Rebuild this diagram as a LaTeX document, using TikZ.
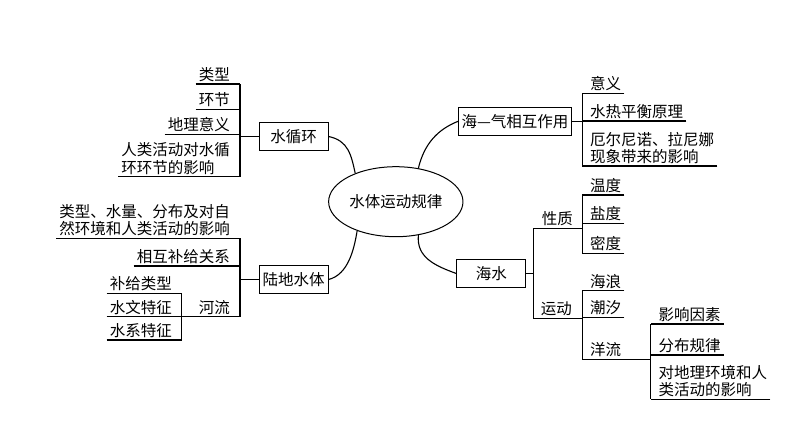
\documentclass[tikz,border=0pt]{standalone}
\usepackage{fontspec}
\setmainfont{Noto Sans CJK SC}
\usetikzlibrary{shapes.geometric}

\begin{document}
\begin{tikzpicture}[x=1pt, y=-1pt, every node/.style={font=\fontsize{15.5}{17.5}\selectfont}]
    % Define the styles for the boxes, the centre and the branch texts
    \tikzset{box/.style={rectangle, draw, line width=1pt, minimum height=28pt, minimum width=69pt, inner xsep=3pt}}
    \tikzset{core/.style={ellipse, draw, line width=1pt, minimum width=115pt, minimum height=70pt, inner sep=1pt}}
    \tikzset{leafl/.style={anchor=south east, inner xsep=3pt, inner ysep=2pt, align=left}}
    \tikzset{leafr/.style={anchor=south west, inner xsep=3pt, inner ysep=2pt, align=left}}
    \tikzset{line/.style={draw, line width=1.1pt}}

    \fill[white] (0,0) rectangle (794,447);
    \useasboundingbox (0,0) rectangle (794,447);

    % Place the centre and the four main blocks
    \node[core] (core) at (395.8,201.7) {水体运动规律};
    \node[box] (wc) at (293.5,136.5) {水循环};
    \node[box] (land) at (293.5,279.5) {陆地水体};
    \node[box] (air) at (515,121.3) {海—气相互作用};
    \node[box] (sea) at (491.3,273.5) {海水};

    \draw[line] (wc.east) .. controls +(20,4) and +(-4,-18) .. (core.145);
    \draw[line] (land.east) .. controls +(20,-5) and +(-3,18) .. (core.217);
    \draw[line] (core.56) .. controls +(6,-25) and +(-20,8) .. (air.west);
    \draw[line] (core.-56) .. controls +(-2,22) and +(-22,-8) .. (sea.west);

    % Water cycle
    \coordinate (wcT) at (240,136.5);
    \node[leafl] (wcA) at (233,84) {类型};
    \node[leafl] (wcB) at (233,109.3) {环节};
    \node[leafl] (wcC) at (233,134.3) {地理意义};
    \node[leafl] (wcD) at (233,176.7) {人类活动对水循\\环环节的影响};
    \foreach \n in {wcA,wcB,wcC,wcD}
        \draw[line] (\n.south west) -- (\n.south west -| wcT);
    \draw[line] (wcA.south west -| wcT) -- (wcD.south west -| wcT);
    \draw[line] (wc.west) -- (wc.west -| wcT);

    % Land water
    \coordinate (ldT) at (240,279.5);
    \coordinate (rvT) at (181.7,316.7);
    \node[leafl] (ldA) at (233,238.3) {类型、水量、分布及对自\\然环境和人类活动的影响};
    \node[leafl] (ldB) at (233,266) {相互补给关系};
    \node[leafl] (ldC) at (233,316.7) {河流};
    \foreach \n in {ldA,ldB}
        \draw[line] (\n.south west) -- (\n.south west -| ldT);
    \draw[line] (ldC.south -| rvT) -- (ldC.south -| ldT);
    \draw[line] (ldA.south west -| ldT) -- (ldC.south -| ldT);
    \draw[line] (land.west) -- (land.west -| ldT);

    \node[leafl] (rvA) at (175,293.3) {补给类型};
    \node[leafl] (rvB) at (175,316.7) {水文特征};
    \node[leafl] (rvC) at (175,340) {水系特征};
    \foreach \n in {rvA,rvB,rvC}
        \draw[line] (\n.south west) -- (\n.south west -| rvT);
    \draw[line] (rvA.south -| rvT) -- (rvC.south -| rvT);

    % Sea-air interaction
    \coordinate (arT) at (582.3,121.3);
    \node[leafr] (arA) at (587,93.3) {意义};
    \node[leafr] (arB) at (587,121) {水热平衡原理};
    \node[leafr] (arC) at (587,166) {厄尔尼诺、拉尼娜\\现象带来的影响};
    \foreach \n in {arA,arB,arC}
        \draw[line] (\n.south east) -- (\n.south east -| arT);
    \draw[line] (arA.south -| arT) -- (arC.south -| arT);
    \draw[line] (air.east) -- (air.east -| arT);

    % Sea water
    \coordinate (seT) at (533.3,273.5);
    \coordinate (pqT) at (582.3,228.3);
    \coordinate (mvT) at (582.3,318.3);
    \coordinate (cuT) at (650.7,359.3);
    \node[leafr] (pq) at (538.7,228.3) {性质};
    \node[leafr] (mv) at (537.7,318.3) {运动};
    \draw[line] (pq.south -| seT) -- (pq.south -| pqT);
    \draw[line] (mv.south -| seT) -- (mv.south -| mvT);
    \draw[line] (pq.south -| seT) -- (mv.south -| seT);
    \draw[line] (sea.east) -- (sea.east -| seT);

    \node[leafr] (pqA) at (587,195) {温度};
    \node[leafr] (pqB) at (587,223.3) {盐度};
    \node[leafr] (pqC) at (587,253.3) {密度};
    \foreach \n in {pqA,pqB,pqC}
        \draw[line] (\n.south east) -- (\n.south east -| pqT);
    \draw[line] (pqA.south -| pqT) -- (pqC.south -| pqT);

    \node[leafr] (mvA) at (587,290.7) {海浪};
    \node[leafr] (mvB) at (587,317.3) {潮汐};
    \node[leafr] (mvC) at (587,359.3) {洋流};
    \foreach \n in {mvA,mvB}
        \draw[line] (\n.south east) -- (\n.south east -| mvT);
    \draw[line] (mvC.south -| mvT) -- (mvC.south -| cuT);
    \draw[line] (mvA.south -| mvT) -- (mvC.south -| mvT);

    \node[leafr] (cuA) at (655.5,324) {影响因素};
    \node[leafr] (cuB) at (655.5,355) {分布规律};
    \node[leafr] (cuC) at (655.5,399.3) {对地理环境和人\\类活动的影响};
    \foreach \n in {cuA,cuB,cuC}
        \draw[line] (\n.south east) -- (\n.south east -| cuT);
    \draw[line] (cuA.south -| cuT) -- (cuC.south -| cuT);

\end{tikzpicture}
\end{document}
